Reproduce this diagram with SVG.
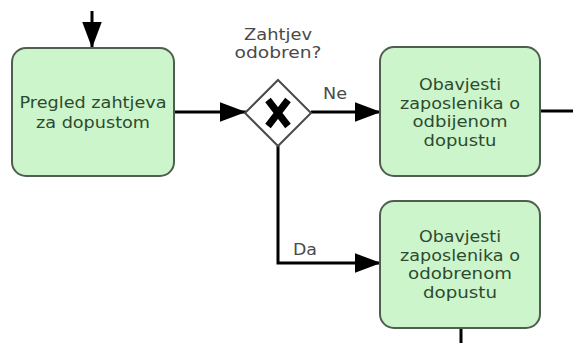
<svg xmlns="http://www.w3.org/2000/svg" width="573" height="343" viewBox="0 0 573 343">
<defs>
<marker id="arr" markerUnits="userSpaceOnUse" markerWidth="26" markerHeight="20" viewBox="0 0 24 18" refX="24" refY="9" orient="auto">
<path d="M0,0 L24,9 L0,18 Z" fill="#000"/>
</marker>
<style>
.task{fill:#ccf5cc;stroke:#4f5f4f;stroke-width:2}
.tt{font-family:"DejaVu Sans",sans-serif;font-size:16px;fill:#2e4a2e;text-anchor:middle}
.lbl{font-family:"DejaVu Sans",sans-serif;font-size:16px;fill:#4a4a4a;text-anchor:middle}
.gl{font-family:"DejaVu Sans",sans-serif;font-size:15px;fill:#4a4a4a;text-anchor:middle}
.con{fill:none;stroke:#000;stroke-width:3}
</style>
</defs>
<rect width="573" height="343" fill="#fff"/>
<g id="connectors">
<path class="con" d="M92,11 V48" marker-end="url(#arr)"/>
<path class="con" d="M174,112 H246" marker-end="url(#arr)"/>
<path class="con" d="M311,112 H381" marker-end="url(#arr)"/>
<path class="con" d="M278,146 V263 H381" marker-end="url(#arr)"/>
<path class="con" d="M540,111 H573"/>
<path class="con" d="M461,328 V343"/>
<text class="lbl" x="335" y="99" textLength="24" lengthAdjust="spacingAndGlyphs">Ne</text>
<text class="lbl" x="305" y="255" textLength="24" lengthAdjust="spacingAndGlyphs">Da</text>
</g>
<g id="task1">
<rect class="task" x="12" y="48" width="162" height="128" rx="14"/>
<text class="tt" x="93" y="108" textLength="147" lengthAdjust="spacingAndGlyphs">Pregled zahtjeva</text>
<text class="tt" x="93" y="128" textLength="114" lengthAdjust="spacingAndGlyphs">za dopustom</text>
</g>
<g id="gateway">
<path d="M278,80 L311,113 L278,146 L245,113 Z" fill="#fff" stroke="#4a4a4a" stroke-width="2"/>
<path d="M268,100 L288,126 M288,100 L268,126" stroke="#000" stroke-width="7" fill="none"/>
<text class="gl" x="278" y="40" textLength="68" lengthAdjust="spacingAndGlyphs">Zahtjev</text>
<text class="gl" x="278" y="58" textLength="87" lengthAdjust="spacingAndGlyphs">odobren?</text>
</g>
<g id="task2">
<rect class="task" x="380" y="47" width="160" height="129" rx="14"/>
<text class="tt" x="460" y="90" textLength="82" lengthAdjust="spacingAndGlyphs">Obavjesti</text>
<text class="tt" x="460" y="108.7" textLength="120" lengthAdjust="spacingAndGlyphs">zaposlenika o</text>
<text class="tt" x="460" y="127.4" textLength="95" lengthAdjust="spacingAndGlyphs">odbijenom</text>
<text class="tt" x="460" y="146.1" textLength="73" lengthAdjust="spacingAndGlyphs">dopustu</text>
</g>
<g id="task3">
<rect class="task" x="380" y="201" width="160" height="127" rx="14"/>
<text class="tt" x="460" y="242" textLength="82" lengthAdjust="spacingAndGlyphs">Obavjesti</text>
<text class="tt" x="460" y="260.7" textLength="120" lengthAdjust="spacingAndGlyphs">zaposlenika o</text>
<text class="tt" x="460" y="279.4" textLength="104" lengthAdjust="spacingAndGlyphs">odobrenom</text>
<text class="tt" x="460" y="298.1" textLength="74" lengthAdjust="spacingAndGlyphs">dopustu</text>
</g>
</svg>
